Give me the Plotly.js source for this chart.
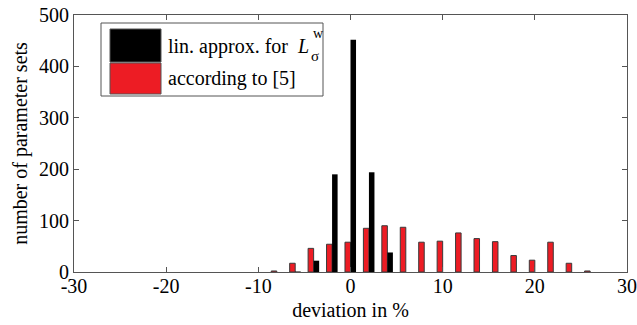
<!DOCTYPE html>
<html>
<head>
<meta charset="utf-8">
<script src="https://cdn.plot.ly/plotly-3.0.1.min.js"></script>
<style>html,body{margin:0;padding:0;background:#fff;}#chart{width:637px;height:325px;}</style>
</head>
<body>
<div id="chart"></div>
<script>
// bin centres (deviation in %)
const binCenters = [-8, -6, -4, -2, 0, 2, 4, 6, 8, 10, 12, 14, 16, 18, 20, 22, 24, 26];
// according to [5]
const refCounts = [2, 17, 46, 54, 58, 85, 90, 87, 58, 60, 76, 65, 59, 32, 23, 58, 17, 2];
// lin. approx. for L_sigma^w
const linCounts = [0, 1, 22, 190, 452, 194, 38, 0, 0, 0, 0, 0, 0, 0, 0, 0, 0, 0];
const seriesNames = ["lin. approx. for", "according to [5]"];
const xTicks = [-30, -20, -10, 0, 10, 20, 30];
const yTicks = [0, 100, 200, 300, 400, 500];

const font = '"Liberation Serif", "Times New Roman", serif';
const redCol = "#ED1C24";

const traces = [
  {type: "bar", x: binCenters, y: refCounts, name: seriesNames[1],
   marker: {color: redCol, line: {color: "#3a3a3a", width: 1}}},
  {type: "bar", x: binCenters, y: linCounts, name: seriesNames[0],
   marker: {color: "#000000", line: {width: 0}}}
];

const L = 74, R = 627, T = 15, B = 272;
const px = v => (v - L) / (R - L);
const py = v => (B - v) / (B - T);

const layout = {
  width: 637, height: 325,
  margin: {l: L, r: 637 - R, t: T, b: 325 - B},
  paper_bgcolor: "#fff", plot_bgcolor: "#fff",
  barmode: "group", bargap: 0.4, bargroupgap: 0,
  showlegend: false,
  font: {family: font, size: 20, color: "#000"},
  xaxis: {
    range: [-30, 30], tickvals: xTicks, ticktext: xTicks.map(String),
    ticks: "inside", ticklen: 5, tickcolor: "#555", showline: true, linecolor: "#555", linewidth: 1,
    mirror: "ticks", showgrid: false, zeroline: false, ticklabelstandoff: -4,
    tickfont: {family: font, size: 20},
    title: {text: "deviation in %", font: {family: font, size: 20}, standoff: 6}
  },
  yaxis: {
    range: [0, 500], tickvals: yTicks, ticktext: yTicks.map(String),
    ticks: "inside", ticklen: 5, tickcolor: "#555", showline: true, linecolor: "#555", linewidth: 1,
    mirror: "ticks", showgrid: false, zeroline: false,
    tickfont: {family: font, size: 20},
    title: {text: "number of parameter sets", font: {family: font, size: 20}, standoff: 6}
  },
  shapes: [
    {type: "rect", xref: "paper", yref: "paper", x0: px(101), x1: px(323), y0: py(96), y1: py(23),
     line: {color: "#555", width: 1}, fillcolor: "#fff", layer: "above"},
    {type: "rect", xref: "paper", yref: "paper", x0: px(110), x1: px(161), y0: py(62), y1: py(29),
     line: {color: "#555", width: 1}, fillcolor: "#000", layer: "above"},
    {type: "rect", xref: "paper", yref: "paper", x0: px(110), x1: px(161), y0: py(94), y1: py(63),
     line: {color: "#555", width: 1}, fillcolor: redCol, layer: "above"}
  ],
  annotations: [
    {xref: "paper", yref: "paper", x: px(166), y: py(46), xanchor: "left", yanchor: "middle",
     text: seriesNames[0] + "  <i>L</i>", showarrow: false, font: {family: font, size: 20}},
    {xref: "paper", yref: "paper", x: px(311), y: py(34), xanchor: "left", yanchor: "middle",
     text: "w", showarrow: false, font: {family: font, size: 14}},
    {xref: "paper", yref: "paper", x: px(309), y: py(56), xanchor: "left", yanchor: "middle",
     text: "σ", showarrow: false, font: {family: font, size: 15}},
    {xref: "paper", yref: "paper", x: px(166), y: py(78), xanchor: "left", yanchor: "middle",
     text: seriesNames[1], showarrow: false, font: {family: font, size: 20}}
  ]
};

Plotly.newPlot("chart", traces, layout, {staticPlot: true, displayModeBar: false});
</script>
</body>
</html>
